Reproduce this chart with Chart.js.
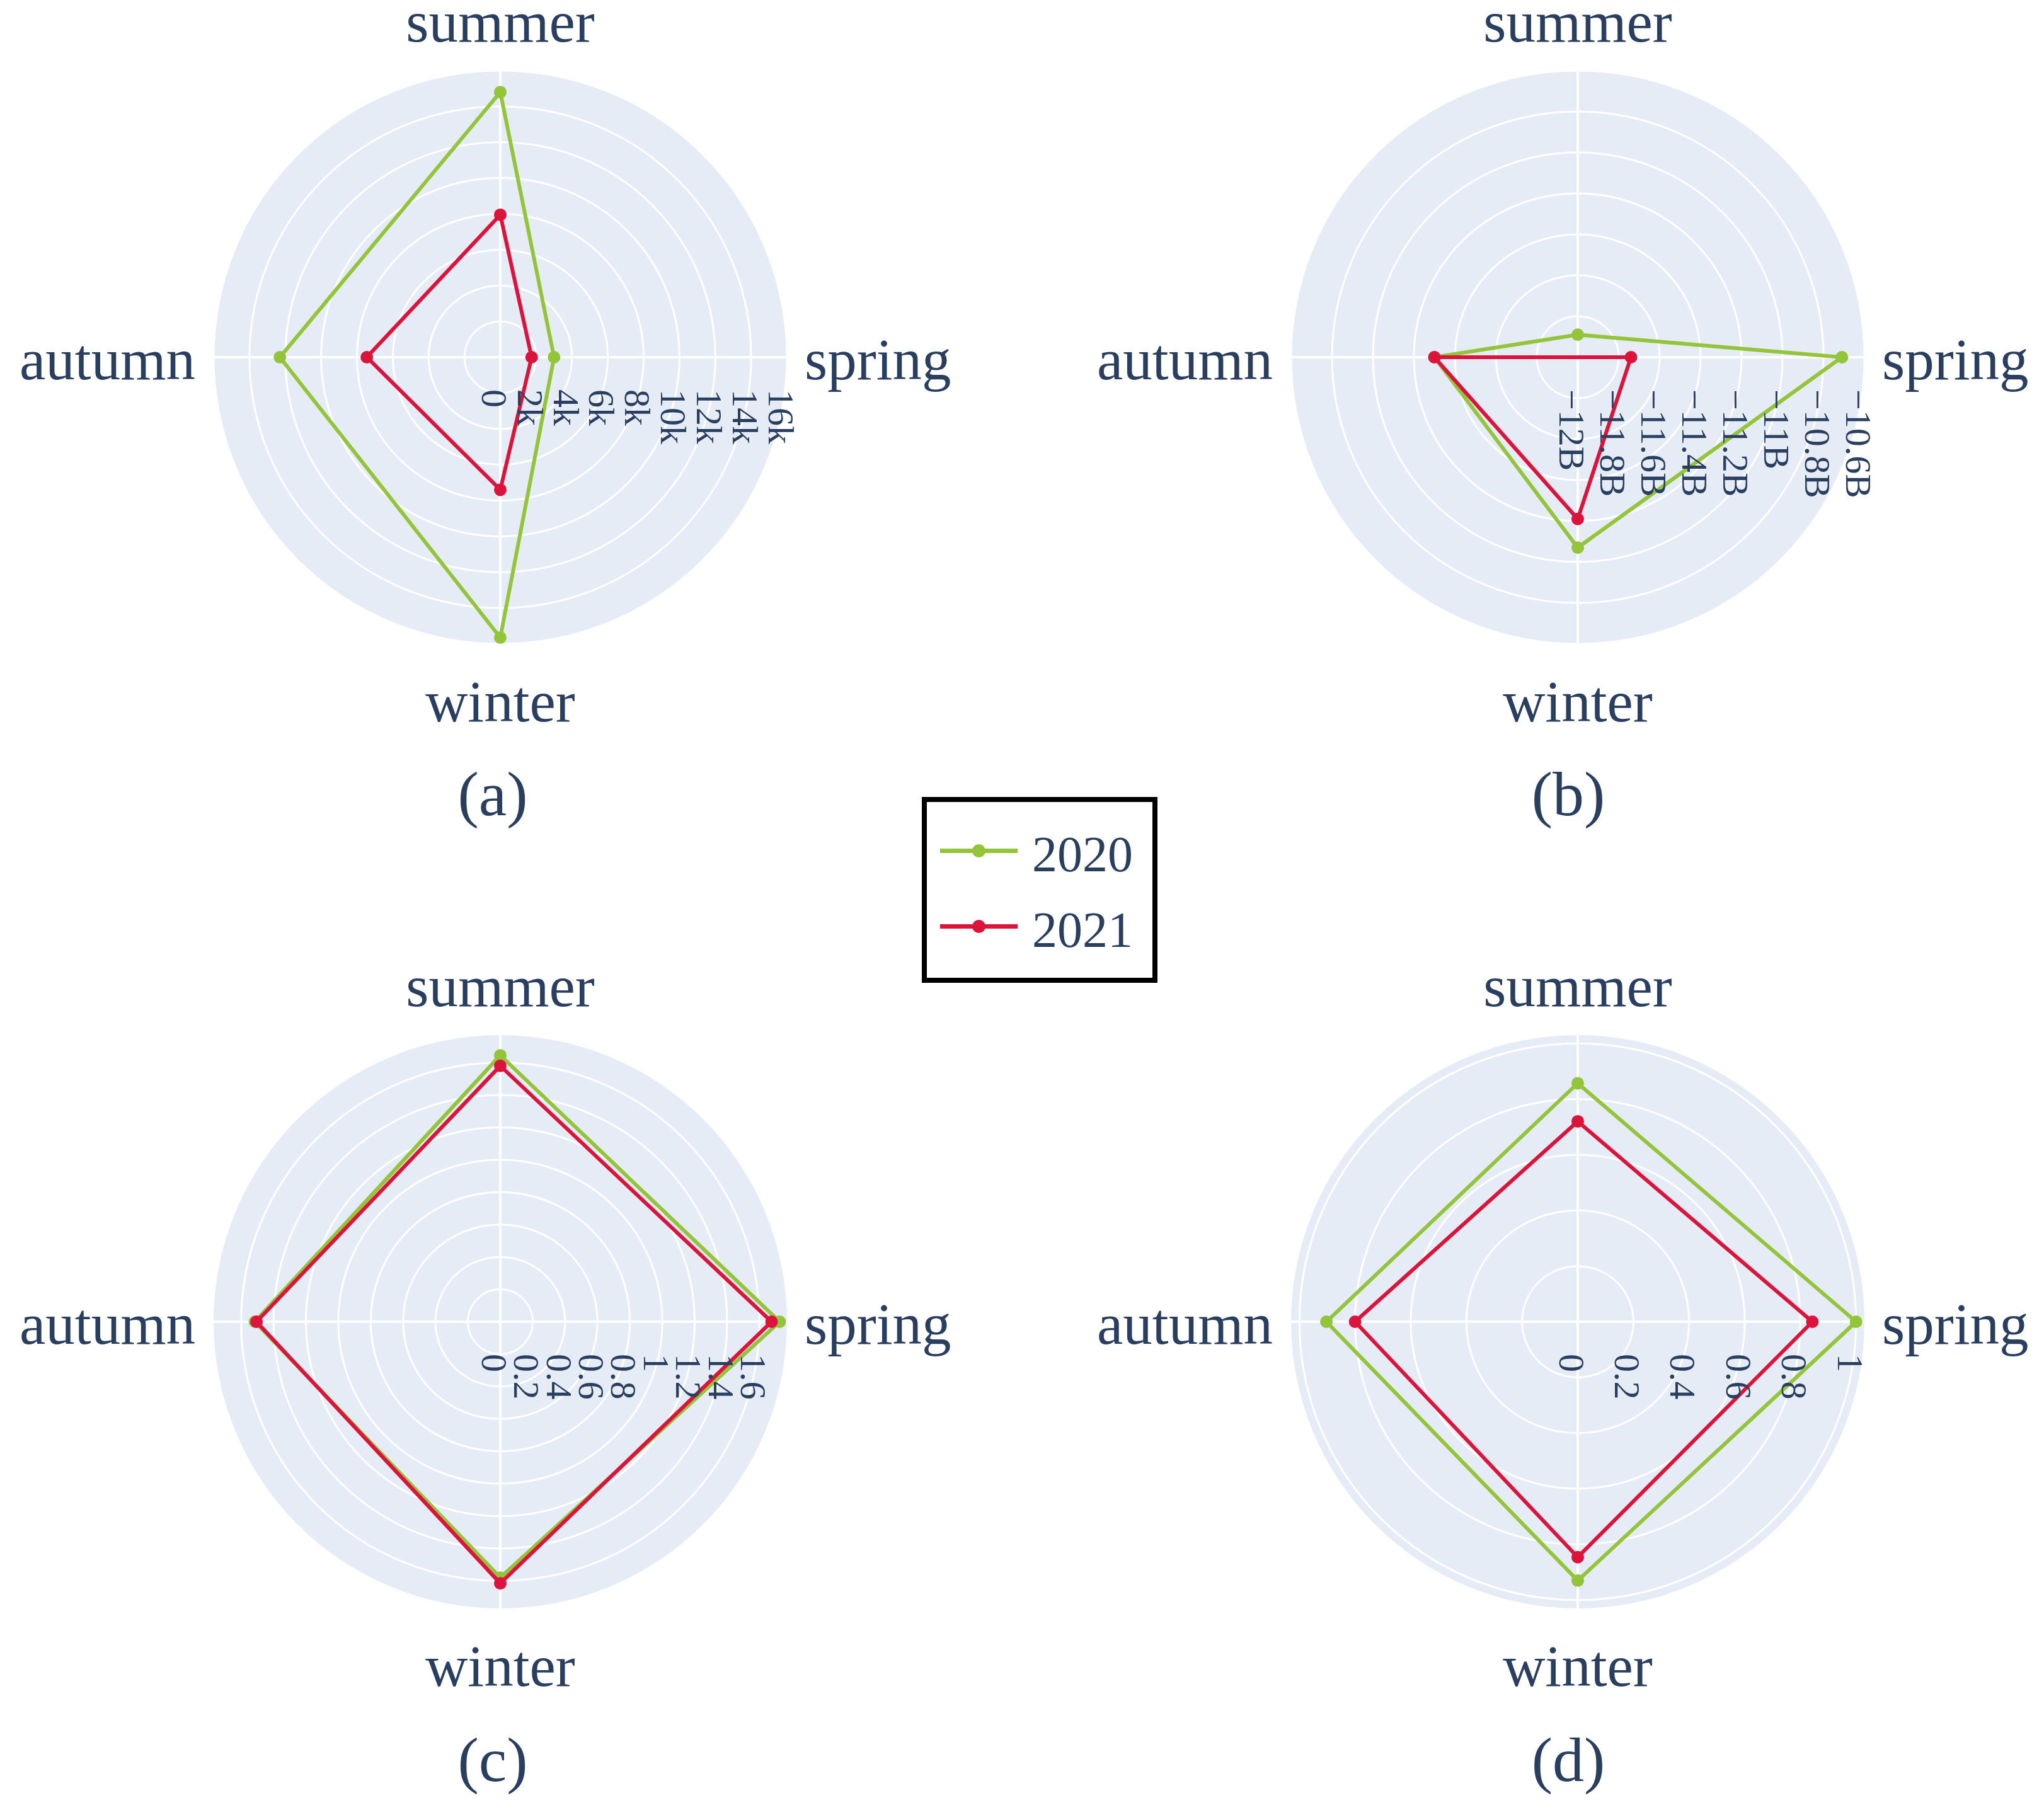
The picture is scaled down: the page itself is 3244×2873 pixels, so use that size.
<!DOCTYPE html>
<html>
<head>
<meta charset="utf-8">
<script src="https://cdn.jsdelivr.net/npm/chart.js@4.4.1/dist/chart.umd.min.js"></script>
<style>
  html, body { margin:0; padding:0; background:#ffffff; }
  body { width:3244px; height:2873px; position:relative; overflow:hidden; font-family:"Liberation Serif","Times New Roman",serif; color:#2a3f5f; }
  canvas { position:absolute; }
  .tag { position:absolute; width:400px; text-align:center; font-size:100px; line-height:100px; color:#2a3f5f; }
  #legend { position:absolute; left:1463px; top:1265px; width:374px; height:295px; box-sizing:border-box; border:8px solid #000; background:#fff; }
  .lg-line { position:absolute; height:7px; }
  .lg-dot { position:absolute; width:21px; height:21px; border-radius:50%; }
  .lg-text { position:absolute; font-size:80px; line-height:80px; color:#2a3f5f; }
</style>
</head>
<body>
<script>
// ---------- data ----------
const categories = ['summer', 'spring', 'winter', 'autumn'];   // clockwise from top
const seriesNames = ['2020', '2021'];
const seriesColors = ['#94c43a', '#dc143c'];

const a2020 = [14800, 3000, 15650, 12300];
const a2021 = [7950, 1750, 7400, 7450];
const b2020 = [-11.89e9, -10.71e9, -11.07e9, -11.30e9];
const b2021 = [-12.0e9, -11.74e9, -11.21e9, -11.30e9];
const c2020 = [1.645, 1.725, 1.58, 1.515];
const c2021 = [1.58, 1.675, 1.615, 1.505];
const d2020 = [0.857, 1.0, 0.93, 0.903];
const d2021 = [0.72, 0.843, 0.846, 0.80];

const aTicks = [0, 2000, 4000, 6000, 8000, 10000, 12000, 14000, 16000];
const aTickLabels = ['0', '2k', '4k', '6k', '8k', '10k', '12k', '14k', '16k'];
const bTicks = [-12e9, -11.8e9, -11.6e9, -11.4e9, -11.2e9, -11e9, -10.8e9, -10.6e9];
const bTickLabels = ['\u221212B', '\u221211.8B', '\u221211.6B', '\u221211.4B', '\u221211.2B', '\u221211B', '\u221210.8B', '\u221210.6B'];
const cTicks = [0, 0.2, 0.4, 0.6, 0.8, 1, 1.2, 1.4, 1.6];
const cTickLabels = ['0', '0.2', '0.4', '0.6', '0.8', '1', '1.2', '1.4', '1.6'];
const dTicks = [0, 0.2, 0.4, 0.6, 0.8, 1];
const dTickLabels = ['0', '0.2', '0.4', '0.6', '0.8', '1'];

const panelTags = ['(a)', '(b)', '(c)', '(d)'];

// ---------- layout ----------
const R = 455;
const CW = 1640, CH = 1240;
const panels = [
  { cx: 794,  cy: 567,  s: [a2020, a2021], min: 0,      max: 16000,   ticks: aTicks, tl: aTickLabels, tagX: 782,  tagBase: 1295 },
  { cx: 2504, cy: 567,  s: [b2020, b2021], min: -12e9,  max: -10.6e9, ticks: bTicks, tl: bTickLabels, tagX: 2489, tagBase: 1295 },
  { cx: 794,  cy: 2098, s: [c2020, c2021], min: 0,      max: 1.77,    ticks: cTicks, tl: cTickLabels, tagX: 782,  tagBase: 2828 },
  { cx: 2504, cy: 2098, s: [d2020, d2021], min: 0,      max: 1.03,    ticks: dTicks, tl: dTickLabels, tagX: 2489, tagBase: 2828 }
];

const TEXT = '#2a3f5f';
const FONT = '"Liberation Serif", "Times New Roman", serif';

const diskPlugin = {
  id: 'disk',
  beforeDraw(chart) {
    const s = chart.scales.r, ctx = chart.ctx;
    ctx.save();
    ctx.fillStyle = '#e5ecf6';
    ctx.beginPath();
    ctx.arc(s.xCenter, s.yCenter, s.drawingArea, 0, Math.PI * 2);
    ctx.fill();
    ctx.restore();
  }
};

const labelPlugin = {
  id: 'labels',
  afterDraw(chart, args, opts) {
    const s = chart.scales.r, ctx = chart.ctx;
    const xc = s.xCenter, yc = s.yCenter, r = s.drawingArea;
    ctx.save();
    ctx.fillStyle = TEXT;
    // category labels
    ctx.font = '93px ' + FONT;
    chart.data.labels.forEach((lab, i) => {
      const p = s.getPointPosition(i, r);
      const dx = p.x - xc, dy = p.y - yc;
      ctx.textBaseline = 'alphabetic';
      if (Math.abs(dy) > Math.abs(dx)) {
        ctx.textAlign = 'center';
        ctx.fillText(lab, p.x, dy < 0 ? p.y - 46 : p.y + 123);
      } else if (dx > 0) {
        ctx.textAlign = 'left';
        ctx.fillText(lab, p.x + 28, yc + 35);
      } else {
        ctx.textAlign = 'right';
        ctx.fillText(lab, p.x - 29, yc + 35);
      }
    });
    // radial tick labels (rotated)
    ctx.font = '58px ' + FONT;
    opts.ticks.forEach((v, i) => {
      const d = s.getDistanceFromCenterForValue(v);
      ctx.save();
      ctx.translate(xc + d - 14, yc + 51);
      ctx.rotate(Math.PI / 2);
      ctx.textAlign = 'left';
      ctx.textBaseline = 'middle';
      ctx.fillText(opts.labels[i], 0, 0);
      ctx.restore();
    });
    ctx.restore();
  }
};

panels.forEach((p, k) => {
  const cv = document.createElement('canvas');
  cv.width = CW; cv.height = CH;
  cv.style.width = CW + 'px'; cv.style.height = CH + 'px';
  cv.style.left = (p.cx - CW / 2) + 'px';
  cv.style.top = (p.cy - CH / 2) + 'px';
  document.body.appendChild(cv);

  const padX = (CW - 2 * R) / 2, padY = (CH - 2 * R) / 2;
  const tickVals = p.ticks;
  const rMin = p.min;
  new Chart(cv, {
    type: 'radar',
    data: {
      labels: categories,
      datasets: p.s.map((vals, j) => ({
        label: seriesNames[j],
        data: vals,
        order: j === 0 ? 1 : 0,
        borderColor: seriesColors[j],
        backgroundColor: seriesColors[j],
        pointBackgroundColor: seriesColors[j],
        pointBorderColor: seriesColors[j],
        pointBorderWidth: 0,
        pointRadius: (c) => (c.raw <= rMin && rMin < 0 ? 0 : 10),
        borderWidth: 6,
        fill: false,
        tension: 0
      }))
    },
    options: {
      responsive: false,
      animation: false,
      devicePixelRatio: 1,
      layout: { padding: { left: padX, right: padX, top: padY, bottom: padY } },
      plugins: {
        legend: { display: false },
        tooltip: { enabled: false },
        labels: { ticks: p.ticks, labels: p.tl }
      },
      scales: {
        r: {
          min: p.min,
          max: p.max,
          startAngle: 0,
          angleLines: { display: true, color: '#ffffff', lineWidth: 4 },
          grid: { circular: true, color: '#ffffff', lineWidth: 3 },
          pointLabels: { display: false },
          ticks: { display: false },
          afterBuildTicks: (scale) => { scale.ticks = tickVals.map(v => ({ value: v })); }
        }
      }
    },
    plugins: [diskPlugin, labelPlugin]
  });

  const tag = document.createElement('div');
  tag.className = 'tag';
  tag.textContent = panelTags[k];
  tag.style.left = (p.tagX - 200) + 'px';
  tag.style.top = (p.tagBase - 84) + 'px';
  document.body.appendChild(tag);
});

// ---------- legend ----------
const legend = document.createElement('div');
legend.id = 'legend';
document.body.appendChild(legend);
const rowY = [1350, 1470];
seriesNames.forEach((name, j) => {
  const y = rowY[j] - 1265 - 8;
  const line = document.createElement('div');
  line.className = 'lg-line';
  line.style.background = seriesColors[j];
  line.style.left = (1492 - 1463 - 8) + 'px';
  line.style.width = '123px';
  line.style.top = (y - 3.5) + 'px';
  legend.appendChild(line);
  const dot = document.createElement('div');
  dot.className = 'lg-dot';
  dot.style.background = seriesColors[j];
  dot.style.left = (1553 - 1463 - 8 - 10.5) + 'px';
  dot.style.top = (y - 10.5) + 'px';
  legend.appendChild(dot);
  const t = document.createElement('div');
  t.className = 'lg-text';
  t.textContent = name;
  t.style.left = (1638 - 1463 - 8) + 'px';
  t.style.top = (y + 33 - 67) + 'px';
  legend.appendChild(t);
});
</script>
</body>
</html>
